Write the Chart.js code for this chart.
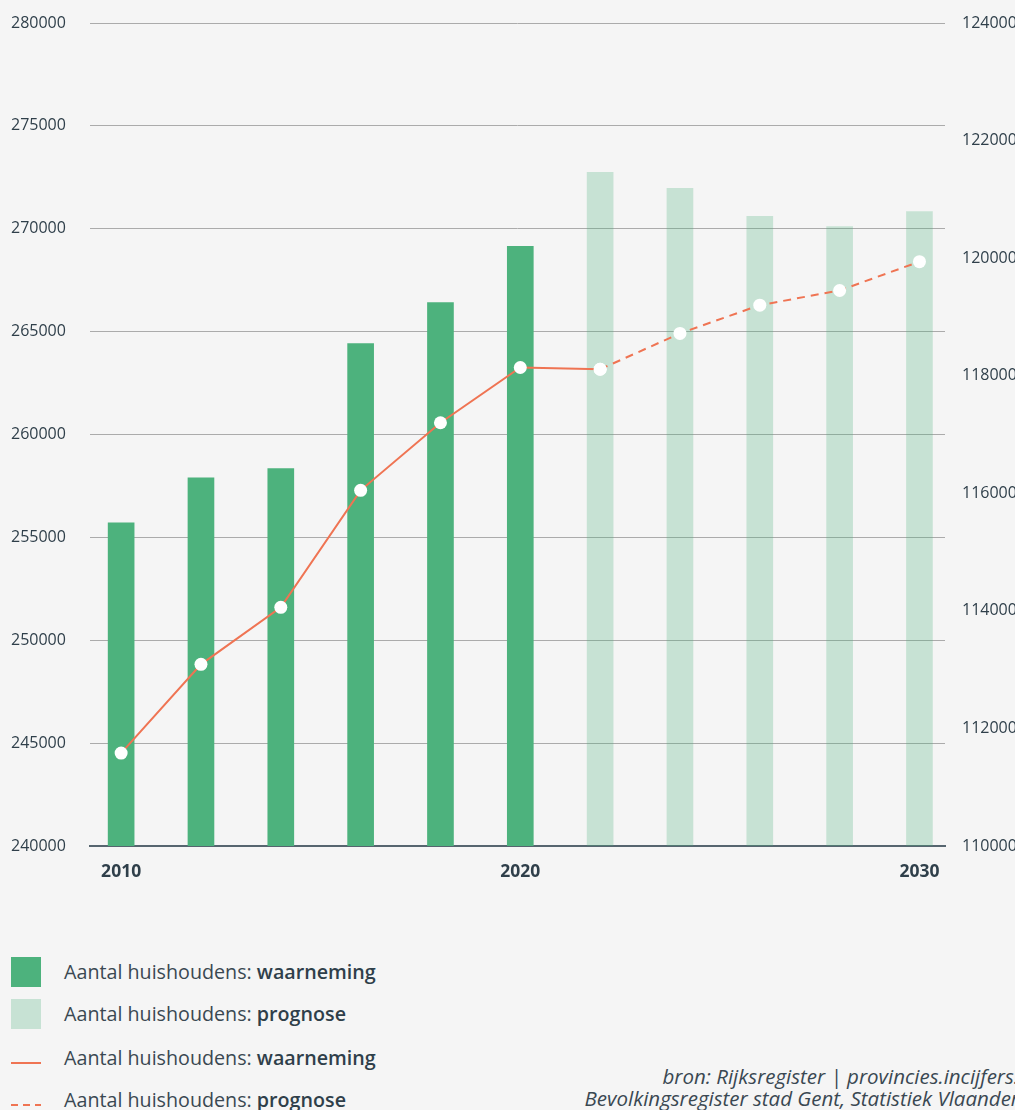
<!DOCTYPE html>
<html lang="nl">
<head>
<meta charset="utf-8">
<title>Aantal huishoudens</title>
<script src="https://cdn.jsdelivr.net/npm/chart.js@4/dist/chart.umd.min.js"></script>
<style>
  html, body { margin: 0; padding: 0; background: #f5f5f5; }
  body { width: 1015px; height: 1110px; position: relative; overflow: hidden;
         font-family: "Open Sans", "Noto Sans", sans-serif; color: #2f3f4a; }
  #wrap { position: absolute; left: 0; top: 0; width: 1015px; height: 891px; }
  .sw { position: absolute; left: 11px; width: 30px; }
  .txt { position: absolute; left: 64px; white-space: nowrap; font-size: 19.7px; font-weight: 400;
         line-height: 30px; color: #3a4852; }
  .txt b { font-weight: 600; color: #2f3f4a; }
  #src { position: absolute; right: -26px; top: 1065px; text-align: right; font-style: italic;
         font-size: 20.5px; line-height: 22px; white-space: nowrap; font-weight: 400; color: #3a4852; }
</style>
</head>
<body>
<div id="wrap"><canvas id="c"></canvas></div>
<div id="legend"></div>
<div id="src">bron: Rijksregister | provincies.incijfers.be<br>Bevolkingsregister stad Gent, Statistiek Vlaanderen</div>
<script>
// Years and values
const barYearsObs   = [2010, 2012, 2014, 2016, 2018, 2020];
const barValuesObs  = [255710, 257900, 258340, 264420, 266410, 269140];
const barYearsProg  = [2022, 2024, 2026, 2028, 2030];
const barValuesProg = [272740, 271960, 270600, 270110, 270840];

const lineYearsObs   = [2010, 2012, 2014, 2016, 2018, 2020, 2022];
const lineValuesObs  = [111580, 113090, 114060, 116050, 117200, 118140, 118110];
const lineYearsProg  = [2022, 2024, 2026, 2028, 2030];
const lineValuesProg = [118110, 118720, 119200, 119450, 119940];

const xTickYears = [2010, 2020, 2030];
const leftTicks  = { min: 240000, max: 280000, step: 5000 };
const rightTicks = { min: 110000, max: 124000, step: 2000 };

const labelObs  = 'waarneming';
const labelProg = 'prognose';
const labelBase = 'Aantal huishoudens: ';

const GREEN = '#4db27d';
const GREEN_LIGHT = 'rgba(77,178,125,0.27)';
const ORANGE = '#ef7453';
const TEXT = '#2f3f4a';

const pts = (xs, ys) => xs.map((x, i) => ({ x: x, y: ys[i] }));

const lineCommon = {
  type: 'line', yAxisID: 'y1', order: 0,
  borderColor: ORANGE, borderWidth: 2, tension: 0,
  pointRadius: 6.5, pointHoverRadius: 6.5, pointBorderWidth: 0,
  pointBackgroundColor: '#ffffff', pointBorderColor: '#ffffff', fill: false
};

new Chart(document.getElementById('c'), {
  data: {
    datasets: [
      Object.assign({}, lineCommon, { label: labelBase + labelObs, data: pts(lineYearsObs, lineValuesObs) }),
      Object.assign({}, lineCommon, { label: labelBase + labelProg, data: pts(lineYearsProg, lineValuesProg), borderDash: [8, 6] }),
      { type: 'bar', label: labelBase + labelObs, yAxisID: 'y', order: 1, grouped: false,
        data: pts(barYearsObs, barValuesObs), backgroundColor: GREEN, barThickness: 26 },
      { type: 'bar', label: labelBase + labelProg, yAxisID: 'y', order: 1, grouped: false,
        data: pts(barYearsProg, barValuesProg), backgroundColor: GREEN_LIGHT, barThickness: 26 }
    ]
  },
  options: {
    responsive: true, maintainAspectRatio: false, animation: false,
    layout: { padding: { top: 23, left: 11, right: 0, bottom: 0 } },
    plugins: { legend: { display: false }, tooltip: { enabled: false } },
    scales: {
      x: {
        type: 'linear', min: 2009.22, max: 2030.64, offset: false,
        afterBuildTicks: s => { s.ticks = xTickYears.map(v => ({ value: v })); },
        afterFit: s => { s.height = 45; },
        grid: { display: false, drawTicks: false },
        border: { display: true, color: '#56656f', width: 2 },
        ticks: { padding: 16, color: TEXT, font: { family: 'Open Sans', size: 17.5, weight: 'bold' },
                 callback: v => String(v), autoSkip: false, maxRotation: 0 }
      },
      y: {
        position: 'left', min: leftTicks.min, max: leftTicks.max,
        afterFit: s => { s.width = 79; },
        grid: { color: '#ababab', lineWidth: 1, drawTicks: false },
        border: { display: false },
        ticks: { stepSize: leftTicks.step, crossAlign: 'far', padding: 0, color: TEXT,
                 font: { family: 'Open Sans', size: 16 }, callback: v => String(v) }
      },
      y1: {
        position: 'right', min: rightTicks.min, max: rightTicks.max,
        afterFit: s => { s.width = 70; },
        // hidden tick marks only reserve the gap between plot and labels
        grid: { display: false, drawTicks: true, tickLength: 17 },
        border: { display: false },
        ticks: { stepSize: rightTicks.step, crossAlign: 'near', padding: 0, color: TEXT,
                 font: { family: 'Open Sans', size: 16 }, callback: v => String(v) }
      }
    }
  }
});

// Legend below the chart
const legendItems = [
  { kind: 'box', color: GREEN, word: labelObs, top: 957 },
  { kind: 'box', color: GREEN_LIGHT, word: labelProg, top: 999 },
  { kind: 'line', word: labelObs, top: 1043 },
  { kind: 'dash', word: labelProg, top: 1085 }
];
const legend = document.getElementById('legend');
legendItems.forEach(it => {
  const sw = document.createElement('div');
  sw.className = 'sw';
  if (it.kind === 'box') {
    sw.style.top = it.top + 'px'; sw.style.height = '30px'; sw.style.background = it.color;
  } else {
    sw.style.top = (it.top + 19) + 'px'; sw.style.height = '2px';
    sw.style.background = it.kind === 'line' ? ORANGE
      : 'repeating-linear-gradient(to right, ' + ORANGE + ' 0 7px, transparent 7px 12px)';
  }
  legend.appendChild(sw);
  const t = document.createElement('div');
  t.className = 'txt';
  t.style.top = it.top + 'px';
  t.innerHTML = labelBase + '<b>' + it.word + '</b>';
  legend.appendChild(t);
});
</script>
</body>
</html>
